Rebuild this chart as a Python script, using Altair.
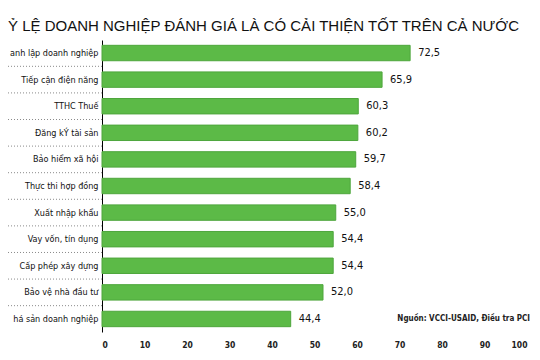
import altair as alt
import pandas as pd

categories = [
    "anh lập doanh nghiệp",
    "Tiếp cận điện năng",
    "TTHC Thuế",
    "Đăng kÝ tài sản",
    "Bảo hiểm xã hội",
    "Thực thi hợp đồng",
    "Xuất nhập khẩu",
    "Vay vốn, tín dụng",
    "Cấp phép xây dựng",
    "Bảo vệ nhà đầu tư",
    "há sản doanh nghiệp",
]
values = [72.5, 65.9, 60.3, 60.2, 59.7, 58.4, 55.0, 54.4, 54.4, 52.0, 44.4]
title_text = "Ỷ LỆ DOANH NGHIỆP ĐÁNH GIÁ LÀ CÓ CẢI THIỆN TỐT TRÊN CẢ NƯỚC"
source_text = "Nguồn: VCCI-USAID, Điều tra PCI"
x_ticks = [0, 10, 20, 30, 40, 50, 60, 70, 80, 90, 100]

df = pd.DataFrame({
    "cat": categories,
    "val": values,
    "label": [f"{v:.1f}".replace(".", ",") for v in values],
})
sep_df = pd.DataFrame({"cat": categories[1:]})
src_df = pd.DataFrame({"cat": [categories[-1]], "txt": [source_text]})

LEFT = 94
W, H = 425, 292
FONT = "DejaVu Sans Condensed"

yscale = alt.Scale(domain=categories, paddingInner=0.42, paddingOuter=0.2)
xscale = alt.Scale(domain=[0, 100], nice=False)

bars = alt.Chart(df).mark_bar(color="#5cba47", stroke="#4ea63c", strokeWidth=1).encode(
    x=alt.X("val:Q", scale=xscale,
            axis=alt.Axis(values=x_ticks, title=None, domain=False, ticks=False, grid=False,
                          labelFont=FONT, labelFontSize=8.5, labelFontWeight="bold",
                          labelColor="#222222", labelPadding=8)),
    y=alt.Y("cat:N", scale=yscale, sort=categories,
            axis=alt.Axis(title=None, ticks=False, domain=True, domainColor="#000000",
                          domainWidth=1, labelFont=FONT, labelFontSize=9,
                          labelColor="#111111", labelPadding=4, labelLimit=0)),
)

text = alt.Chart(df).mark_text(align="left", baseline="middle", dx=8, font=FONT,
                               fontSize=11, color="#111111").encode(
    x=alt.X("val:Q", scale=xscale),
    y=alt.Y("cat:N", scale=yscale, sort=categories),
    text="label:N",
)

seps = alt.Chart(sep_df).mark_rule(color="#8a8a8a", strokeDash=[1, 2], strokeWidth=1,
                                   yOffset=-5.6).encode(
    y=alt.Y("cat:N", scale=yscale, sort=categories, bandPosition=0),
    x=alt.value(-LEFT),
    x2=alt.value(0),
)

src = alt.Chart(src_df).mark_text(align="right", baseline="middle", font=FONT, fontSize=8,
                                  fontWeight="bold", color="#222222").encode(
    y=alt.Y("cat:N", scale=yscale, sort=categories),
    x=alt.value(W + 3),
    text="txt:N",
)

chart = alt.layer(bars, text, src, seps).properties(
    width=W,
    height=H,
    autosize=alt.AutoSizeParams(type="none"),
    padding={"left": LEFT, "top": 32, "right": 5, "bottom": 18},
    title=alt.TitleParams(title_text, anchor="start", frame="group", dx=-LEFT, offset=6,
                          font="Liberation Sans", fontSize=15, fontWeight="normal",
                          color="#111111"),
).configure_view(stroke=None)

chart.save("out.html", embed_options={"renderer": "svg", "actions": False})
